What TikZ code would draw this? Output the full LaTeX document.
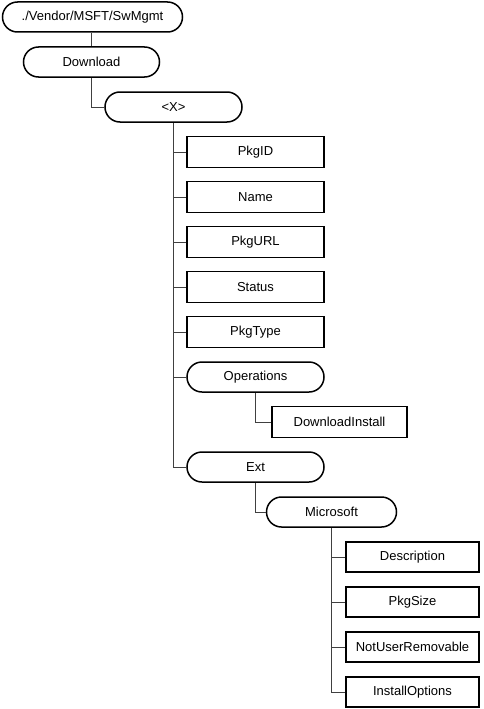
\documentclass[tikz,border=0pt]{standalone}
\usepackage{fontspec}
\setmainfont{Liberation Sans}
\usepackage{tikz}
\usetikzlibrary{positioning}
\usetikzlibrary{shapes,arrows}

\begin{document}
\begin{tikzpicture}[x=1pt,y=1pt,node distance=45pt,
  every node/.style={font=\fontsize{13}{15}\selectfont},
  leaf/.style={draw,line width=1.5pt,rectangle,minimum width=137pt,minimum height=31pt,inner sep=0pt},
  branch/.style={draw,line width=1.5pt,rectangle,rounded corners=15pt,minimum width=137pt,minimum height=30pt,inner sep=0pt},
  conn/.style={draw=black!75,line width=1pt}]
  \useasboundingbox (0,0) rectangle (483,-709);
  \node(sw) [branch, minimum width=180pt] at (92.5,-17) {./Vendor/MSFT/SwMgmt};
  \node(dl) [branch, below of=sw, xshift=-1pt, minimum width=136pt]{Download};
  \node(x) [branch, below of=dl, xshift=82pt]{<X>};
  \node(pkgid) [leaf, below of=x, xshift=82pt]{PkgID};
  \node(name) [leaf, below of=pkgid]{Name};
  \node(url) [leaf, below of=name]{PkgURL};
  \node(status) [leaf, below of=url]{Status};
  \node(type) [leaf, below of=status]{PkgType};
  \node(ops) [branch, below of=type]{Operations};
  \node(inst) [leaf, below of=ops, xshift=84pt, minimum width=135pt]{DownloadInstall};
  \node(ext) [branch, node distance=90pt, below of=ops]{Ext};
  \node(ms) [branch, below of=ext, xshift=76pt, minimum width=130pt]{Microsoft};
  \node(desc) [leaf, below of=ms, xshift=81pt, minimum width=133pt, minimum height=30pt]{Description};
  \node(size) [leaf, below of=desc, minimum width=133pt, minimum height=30pt]{PkgSize};
  \node(nur) [leaf, below of=size, minimum width=133pt, minimum height=30pt]{NotUserRemovable};
  \node(opt) [leaf, below of=nur, minimum width=133pt, minimum height=30pt]{InstallOptions};
  \draw[conn] (dl.north) -- (dl.north |- sw.south);
  \draw[conn] (dl.south) |- (x.west);
  \draw[conn] (x.south) |- (pkgid.west);
  \draw[conn] (x.south) |- (name.west);
  \draw[conn] (x.south) |- (url.west);
  \draw[conn] (x.south) |- (status.west);
  \draw[conn] (x.south) |- (type.west);
  \draw[conn] (x.south) |- (ops.west);
  \draw[conn] (x.south) |- (ext.west);
  \draw[conn] (ops.south) |- (inst.west);
  \draw[conn] (ext.south) |- (ms.west);
  \draw[conn] (ms.south) |- (desc.west);
  \draw[conn] (ms.south) |- (size.west);
  \draw[conn] (ms.south) |- (nur.west);
  \draw[conn] (ms.south) |- (opt.west);
\end{tikzpicture}
\end{document}
